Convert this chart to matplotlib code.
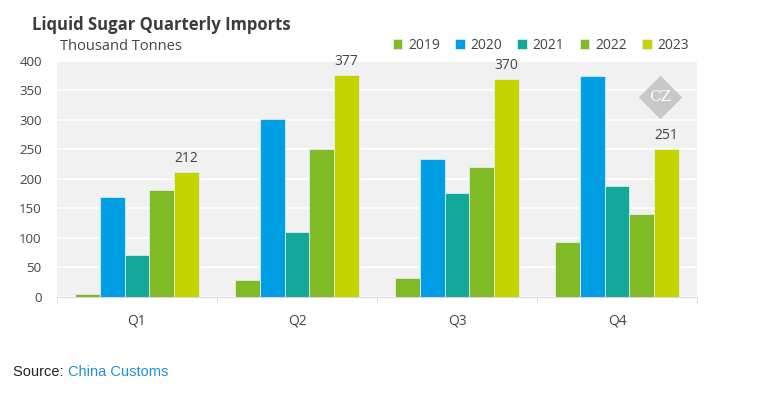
import matplotlib.pyplot as plt
import numpy as np

plt.rcParams['font.family'] = ['Open Sans', 'DejaVu Sans']

quarters = ['Q1', 'Q2', 'Q3', 'Q4']
years = ['2019', '2020', '2021', '2022', '2023']
imports = {
    '2019': [5, 29, 33, 94],
    '2020': [169, 302, 234, 374],
    '2021': [71, 110, 177, 188],
    '2022': [181, 251, 221, 141],
    '2023': [212, 377, 370, 251],
}
colors = ['#80ba27', '#009fe3', '#14a89b', '#80ba27', '#c5d300']

fig = plt.figure(figsize=(7.69, 3.94), dpi=100)
ax = fig.add_axes([0.0741, 0.2462, 0.8323, 0.599])
ax.set_facecolor('#f1f1f1')

x = np.arange(len(quarters))
w = 0.154
for i, yr in enumerate(years):
    bars = ax.bar(x + (i - 2) * w, imports[yr], w, color=colors[i],
                  edgecolor='#e8f4f8', linewidth=0.5, label=yr, zorder=3)
    if yr == '2023':
        ax.bar_label(bars, padding=4, fontsize=10, color='#444444')

ax.set_ylim(0, 400)
ax.set_xlim(-0.5, 3.5)
ax.set_yticks(range(0, 401, 50))
ax.yaxis.grid(True, color='white', linewidth=1.2, zorder=0)
ax.tick_params(axis='y', length=0, labelsize=9.5, colors='#444444', pad=11)
ax.set_xticks(x)
ax.set_xticklabels(quarters)
ax.set_xticks(np.arange(-0.5, 3.6, 1), minor=True)
ax.tick_params(axis='x', which='major', length=0, labelsize=10,
               colors='#444444', pad=12)
ax.tick_params(axis='x', which='minor', length=5, color='#d9d9d9')
for s in ['top', 'right', 'left']:
    ax.spines[s].set_visible(False)
ax.spines['bottom'].set_color('#d9d9d9')

# watermark
ax.scatter([0.942], [0.847], marker='D', s=490, color='#c8c8c8',
           transform=ax.transAxes, zorder=2, linewidths=0)
ax.text(0.942, 0.847, 'CZ', transform=ax.transAxes, ha='center',
        va='center', color='white', fontsize=11, family='DejaVu Serif',
        zorder=2)

fig.text(0.042, 0.937, 'Liquid Sugar Quarterly Imports', fontsize=12,
         fontweight='bold', color='#3c3c3c', va='center')
fig.text(0.078, 0.882, 'Thousand Tonnes', fontsize=10.5, color='#444444',
         va='center')

leg = fig.legend(loc='center right', bbox_to_anchor=(0.912, 0.885),
                 ncol=5, frameon=False, fontsize=10, handlelength=0.7,
                 handleheight=0.7, handletextpad=0.4, columnspacing=1.1,
                 labelcolor='#444444')

fig.text(0.017, 0.055, 'Source: ', fontsize=10.5, color='#222222',
         family='Liberation Sans', va='center')
fig.text(0.088, 0.055, 'China Customs', fontsize=10.5, color='#1e8fd8',
         family='Liberation Sans', va='center')

fig.savefig('out.png', dpi=100)
